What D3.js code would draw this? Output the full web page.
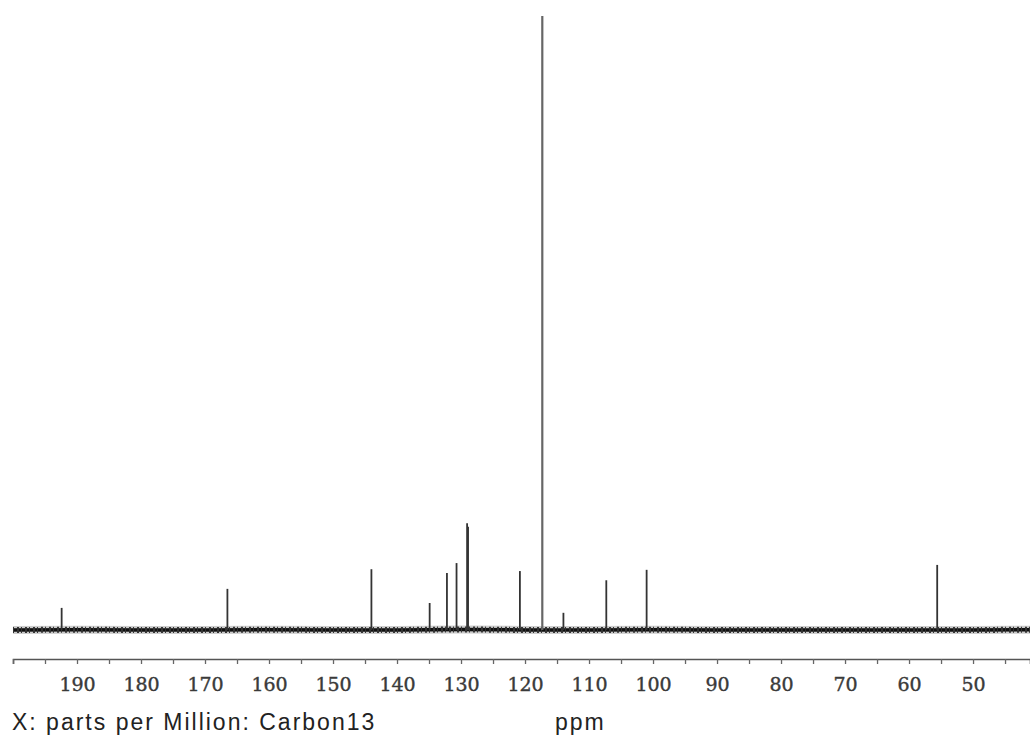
<!DOCTYPE html>
<html>
<head>
<meta charset="utf-8">
<script src="https://cdn.jsdelivr.net/npm/d3@7"></script>
<style>
  body { margin: 0; background: #fff; }
  svg { display: block; }
</style>
</head>
<body>
<div id="chart"></div>
<script>
// peak positions (ppm) and relative heights
const peakShifts = [192.4, 166.5, 144.0, 134.9, 132.2, 130.7, 129.05, 128.9, 120.8, 117.3, 114.0, 107.3, 101.0, 55.6];
const peakHeights = [3.6, 6.7, 9.9, 4.4, 9.3, 10.9, 17.4, 16.8, 9.6, 100, 2.8, 8.1, 9.8, 10.6];

// baseline samples (ppm, level)
const baselinePpm = [200, 190, 180, 170, 160, 150, 140, 130, 120, 110, 100, 90, 80, 70, 60, 50, 41];
const baselineLevel = [0, 0.05, 0, 0, 0.05, 0, 0, 0.1, 0, 0, 0.05, 0, 0, 0, 0, 0, 0.05];

const tickValues = d3.range(200, 40, -5);
const labelValues = [190, 180, 170, 160, 150, 140, 130, 120, 110, 100, 90, 80, 70, 60, 50];

const W = 1030, H = 742;
const svg = d3.select('#chart').append('svg')
  .attr('width', W)
  .attr('height', H);

svg.append('rect').attr('width', W).attr('height', H).attr('fill', '#fff');

const x = d3.scaleLinear().domain([200, 41.1]).range([13, 1030]);
const y = d3.scaleLinear().domain([0, 100]).range([630, 16]);

// baseline noise band
const line = d3.line().x(d => x(d[0])).y(d => y(d[1]));
const base = baselinePpm.map((p, i) => [p, baselineLevel[i]]);

svg.append('path')
  .attr('d', line(base))
  .attr('fill', 'none')
  .attr('stroke', '#999')
  .attr('stroke-width', 8)
  .attr('stroke-opacity', 0.5);

svg.append('path')
  .attr('d', line(base))
  .attr('fill', 'none')
  .attr('stroke', '#111')
  .attr('stroke-width', 3.5);

svg.append('path')
  .attr('d', line(base))
  .attr('fill', 'none')
  .attr('stroke', '#333')
  .attr('stroke-width', 6)
  .attr('stroke-dasharray', '1,3,2,2');

// peaks
svg.selectAll('line.peak')
  .data(peakShifts)
  .enter().append('line')
  .attr('class', 'peak')
  .attr('x1', d => x(d))
  .attr('x2', d => x(d))
  .attr('y1', y(0))
  .attr('y2', (d, i) => y(peakHeights[i]))
  .attr('stroke', (d, i) => peakHeights[i] > 50 ? '#666' : '#333')
  .attr('stroke-width', (d, i) => peakHeights[i] > 50 ? 2.2 : 1.8);

// axis
const xAxis = d3.axisBottom(x)
  .tickValues(tickValues)
  .tickSize(5)
  .tickPadding(14)
  .tickFormat(d => labelValues.includes(d) ? d : '');

const gx = svg.append('g')
  .attr('transform', 'translate(0,659)')
  .call(xAxis);

gx.select('.domain').attr('stroke', '#555').attr('stroke-width', 1.6);
gx.selectAll('.tick line').attr('stroke', '#666').attr('stroke-width', 1.3);
gx.selectAll('.tick text')
  .attr('fill', '#3a3a3a')
  .attr('stroke', '#3a3a3a')
  .attr('stroke-width', 0.4)
  .style('font-family', '"DejaVu Serif", serif')
  .style('font-size', '19px');

svg.append('text')
  .attr('x', 12)
  .attr('y', 730)
  .style('font-family', '"Liberation Sans", Arial, sans-serif')
  .style('font-size', '23px')
  .style('letter-spacing', '2px')
  .attr('fill', '#222')
  .text('X: parts per Million: Carbon13');

svg.append('text')
  .attr('x', 555)
  .attr('y', 730)
  .style('font-family', '"Liberation Sans", Arial, sans-serif')
  .style('font-size', '23px')
  .style('letter-spacing', '2px')
  .attr('fill', '#222')
  .text('ppm');
</script>
</body>
</html>
